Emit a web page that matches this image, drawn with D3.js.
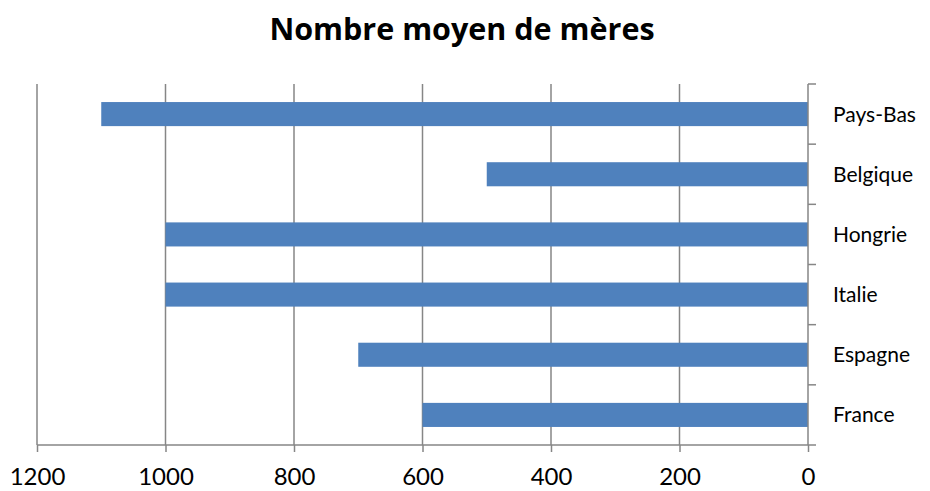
<!DOCTYPE html>
<html><head><meta charset="utf-8">
<script src="https://cdn.jsdelivr.net/npm/d3@7"></script>
<style>body{margin:0;background:#fff;font-family:Lato,"Open Sans",sans-serif;}</style>
</head><body><svg id="c" width="930" height="491"></svg>
<script>
const categories = ["Pays-Bas","Belgique","Hongrie","Italie","Espagne","France"];
const values = [1100,500,1000,1000,700,600];
const xTicks = [0,200,400,600,800,1000,1200];
const title = "Nombre moyen de mères";

const svg = d3.select("#c");
const L = 37, R = 808, T = 84, B = 445;
const x = d3.scaleLinear().domain([1200,0]).range([L,R]);
const y = d3.scaleBand().domain(categories).range([T,B]).paddingInner(0.6).paddingOuter(0.3);
const yb = d3.scaleBand().domain(categories).range([T,B]);

svg.append("text").attr("x",462).attr("y",40).attr("text-anchor","middle")
  .attr("font-family","'Open Sans',Lato,sans-serif")
  .attr("font-size",30.5).attr("font-weight","bold").attr("fill","#000").text(title);

// gridlines
svg.append("g").selectAll("line").data(xTicks.filter(d=>d!==0)).join("line")
  .attr("x1",d=>x(d)).attr("x2",d=>x(d)).attr("y1",T).attr("y2",B)
  .attr("stroke","#868686").attr("stroke-width",1.5);

// bars
svg.append("g").selectAll("rect").data(categories).join("rect")
  .attr("x",(d,i)=>x(values[i])).attr("width",(d,i)=>x(0)-x(values[i]))
  .attr("y",d=>y(d)).attr("height",y.bandwidth()).attr("fill","#4F81BD");

// x axis
const xa = svg.append("g").attr("transform",`translate(0,${B})`)
  .call(d3.axisBottom(x).tickValues(xTicks).tickSize(7).tickPadding(8).tickFormat(d3.format("d")));
xa.select(".domain").attr("stroke","#868686").attr("stroke-width",1.5).attr("d",`M${L},0H${R}`);
xa.selectAll(".tick line").attr("stroke","#868686").attr("stroke-width",1.5);
xa.selectAll("text").attr("font-size",24).attr("fill","#000").attr("font-family","Lato,'Open Sans',sans-serif")
  .attr("dy",null).attr("y",40);

// y axis on right
const ya = svg.append("g").attr("transform",`translate(${R},0)`);
ya.append("line").attr("x1",0).attr("x2",0).attr("y1",T).attr("y2",B).attr("stroke","#868686").attr("stroke-width",1.5);
const bounds = categories.map(c=>yb(c)).concat([B]);
ya.selectAll("line.t").data(bounds).join("line").attr("class","t")
  .attr("x1",0).attr("x2",8).attr("y1",d=>d).attr("y2",d=>d).attr("stroke","#868686").attr("stroke-width",1.5);
ya.selectAll("text").data(categories).join("text")
  .attr("x",25).attr("y",d=>yb(d)+yb.bandwidth()/2).attr("dy","0.36em")
  .attr("font-size",21).attr("fill","#000").text(d=>d);
</script></body></html>
